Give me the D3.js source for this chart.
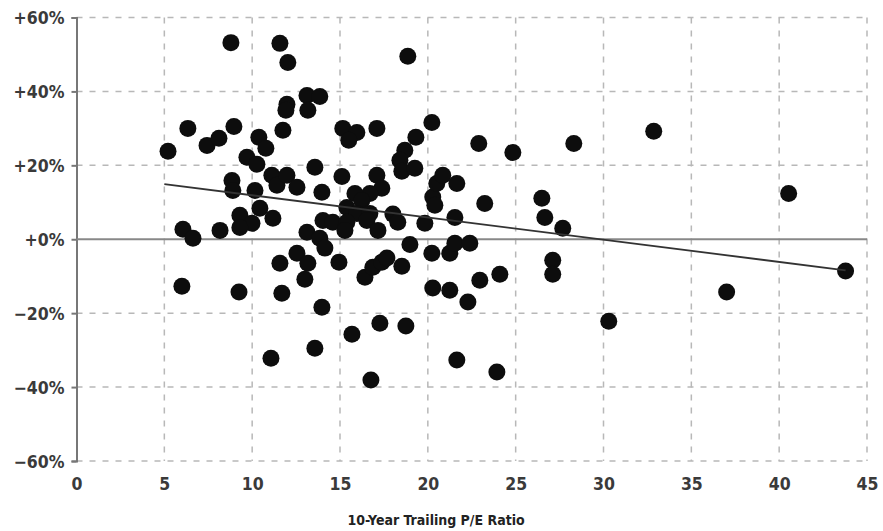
<!DOCTYPE html>
<html>
<head>
<meta charset="utf-8">
<script src="https://cdn.jsdelivr.net/npm/d3@7"></script>
<style>
body { margin: 0; background: #fff; }
.tickText { font-family: "DejaVu Sans Condensed", "Liberation Sans Narrow", Roboto, sans-serif; font-size: 17.5px; font-weight: 600; fill: #3a3a3a; }
.xTitle { font-family: "DejaVu Sans Condensed", "Liberation Sans Narrow", Roboto, sans-serif; font-size: 14px; font-weight: bold; fill: #222; }
</style>
</head>
<body>
<div id="scatter"></div>
<script>
// 10-year trailing P/E vs subsequent return
var peRatio = [8.79, 11.58, 12.03, 18.86, 5.21, 6.34, 7.43, 8.11, 8.96, 10.38,
  10.78, 9.70, 10.27, 11.98, 11.92, 11.75, 13.12, 13.85, 13.17, 15.16,
  15.96, 15.50, 17.10, 20.23, 19.32, 18.69, 18.41, 18.52, 19.26, 22.90,
  24.84, 28.31, 32.86, 13.57, 8.85, 8.90, 10.16, 11.12, 11.41, 11.98,
  12.55, 15.11, 17.10, 17.38, 16.70, 15.85, 13.97, 16.24, 15.39, 15.96,
  16.70, 14.03, 14.59, 15.39, 16.53, 15.28, 17.16, 18.01, 18.29, 19.83,
  21.54, 23.24, 20.28, 20.51, 20.85, 21.65, 20.40, 13.12, 13.85, 26.49,
  26.66, 27.68, 9.30, 10.44, 11.18, 9.99, 9.30, 6.06, 6.63, 8.17,
  40.54, 18.98, 20.23, 21.25, 21.54, 22.39, 12.55, 13.17, 11.58, 13.00,
  11.69, 9.25, 6.00, 14.94, 14.14, 16.42, 16.87, 17.38, 17.67, 18.52,
  20.28, 21.25, 22.28, 22.96, 24.10, 13.97, 15.68, 17.27, 18.75, 13.57,
  21.65, 16.76, 23.93, 11.07, 27.11, 27.11, 30.30, 37.01, 43.78];

var returnPct = [53.2, 53.0, 47.8, 49.5, 23.8, 30.0, 25.4, 27.3, 30.5, 27.6,
  24.6, 22.2, 20.3, 36.5, 34.9, 29.5, 38.9, 38.6, 34.9, 30.0,
  28.9, 26.8, 30.0, 31.6, 27.6, 24.1, 21.4, 18.4, 19.2, 25.9,
  23.5, 25.9, 29.2, 19.5, 15.9, 13.2, 13.2, 17.3, 14.6, 17.3,
  14.1, 17.0, 17.3, 13.8, 12.4, 12.4, 12.7, 10.5, 8.6, 7.0,
  7.0, 5.1, 4.6, 4.6, 5.1, 2.4, 2.4, 6.8, 4.6, 4.3,
  5.9, 9.7, 11.4, 15.1, 17.3, 15.1, 9.2, 1.9, 0.3, 11.1,
  5.9, 3.0, 6.5, 8.4, 5.7, 4.3, 3.2, 2.7, 0.3, 2.4,
  12.4, -1.4, -3.8, -3.8, -1.1, -1.1, -3.8, -6.5, -6.5, -10.8,
  -14.6, -14.3, -12.7, -6.2, -2.4, -10.3, -7.6, -6.2, -5.1, -7.3,
  -13.2, -13.8, -17.0, -11.1, -9.5, -18.4, -25.7, -22.7, -23.5, -29.5,
  -32.7, -38.1, -35.9, -32.2, -5.7, -9.5, -22.2, -14.3, -8.6];

var trendX = [5, 43.78];
var trendY = [14.9, -8.4];

var xTicks = [0, 5, 10, 15, 20, 25, 30, 35, 40, 45];
var yTicks = [-60, -40, -20, 0, 20, 40, 60];

var svgWidth = 883;
var svgHeight = 531;

var plotLeft = 76.5;
var plotRight = 867;
var plotTop = 17.5;
var plotBottom = 461;

var svg = d3
.select("#scatter")
.append("svg")
.attr("width", svgWidth)
.attr("height", svgHeight);

var xScale = d3.scaleLinear().domain([0, 45]).range([plotLeft, plotRight]);
var yScale = d3.scaleLinear().domain([-60, 60]).range([plotBottom, plotTop]);

function yFormat(d) {
    return (d < 0 ? "\u2212" + Math.abs(d) : "+" + d) + "%";
}

// dashed grid
svg.append("g")
.selectAll("line")
.data(xTicks.filter(function(d) { return d > 0; }))
.enter()
.append("line")
.attr("x1", function(d) { return xScale(d); })
.attr("x2", function(d) { return xScale(d); })
.attr("y1", plotTop)
.attr("y2", plotBottom)
.attr("stroke", "#b8b8b8")
.attr("stroke-width", 1.5)
.attr("stroke-dasharray", "6,7");

svg.append("g")
.selectAll("line")
.data(yTicks.filter(function(d) { return d !== 0; }))
.enter()
.append("line")
.attr("x1", plotLeft)
.attr("x2", plotRight)
.attr("y1", function(d) { return yScale(d); })
.attr("y2", function(d) { return yScale(d); })
.attr("stroke", "#b8b8b8")
.attr("stroke-width", 1.5)
.attr("stroke-dasharray", "6,7");

// y axis
var yAxis = d3.axisLeft(yScale)
.tickValues(yTicks)
.tickSize(5)
.tickPadding(7)
.tickFormat(yFormat);

var yG = svg.append("g")
.attr("transform", "translate(" + plotLeft + ",0)")
.call(yAxis);

yG.select(".domain").attr("stroke", "#777").attr("stroke-width", 2);
yG.selectAll(".tick line").attr("stroke", "#777").attr("stroke-width", 2);
yG.selectAll(".tick text").attr("class", "tickText").attr("dy", "0.36em");

// x axis labels only
var xAxis = d3.axisBottom(xScale)
.tickValues(xTicks)
.tickSize(0)
.tickPadding(17);

var xG = svg.append("g")
.attr("transform", "translate(0," + plotBottom + ")")
.call(xAxis);

xG.select(".domain").remove();
xG.selectAll(".tick text").attr("class", "tickText");

// zero line
svg.append("line")
.attr("x1", plotLeft)
.attr("x2", plotRight)
.attr("y1", yScale(0))
.attr("y2", yScale(0))
.attr("stroke", "#888")
.attr("stroke-width", 2.2);

// points
svg.append("g")
.selectAll("circle")
.data(peRatio)
.enter()
.append("circle")
.attr("cx", function(d) { return xScale(d); })
.attr("cy", function(d, i) { return yScale(returnPct[i]); })
.attr("r", 8.5)
.attr("fill", "#0d0d0d");

// trend line
svg.append("line")
.attr("x1", xScale(trendX[0]))
.attr("x2", xScale(trendX[1]))
.attr("y1", yScale(trendY[0]))
.attr("y2", yScale(trendY[1]))
.attr("stroke", "#333")
.attr("stroke-width", 1.8);

svg.append("text")
.attr("class", "xTitle")
.attr("x", 436)
.attr("y", 525)
.attr("text-anchor", "middle")
.text("10-Year Trailing P/E Ratio");
</script>
</body>
</html>
